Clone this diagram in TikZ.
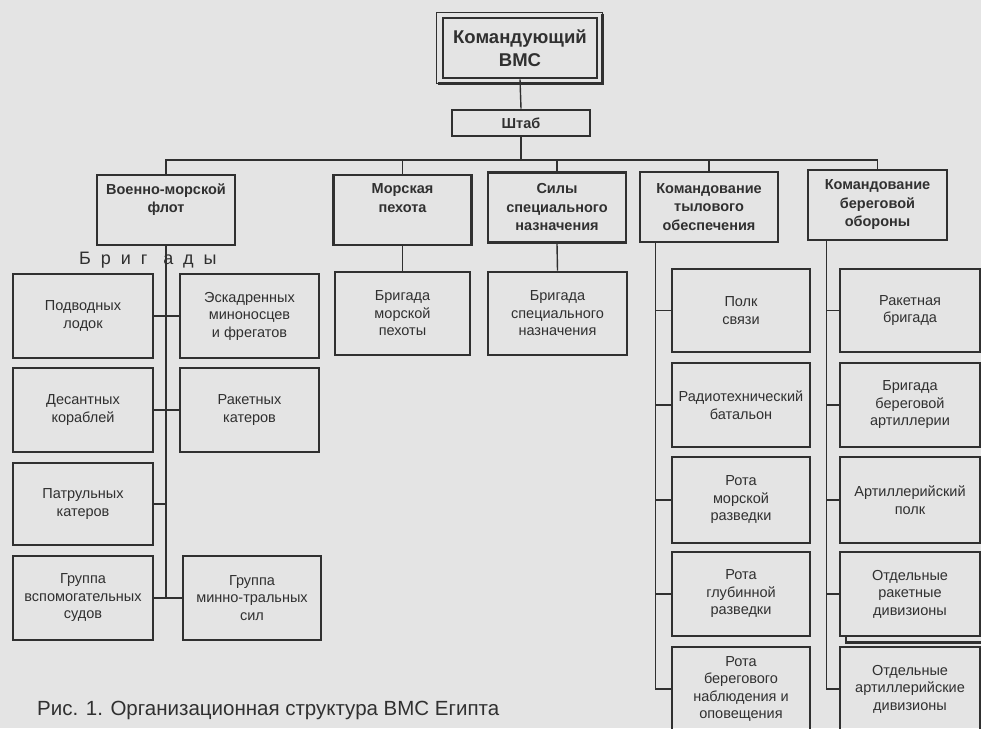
\documentclass[tikz,border=0pt]{standalone}
\usepackage{fontspec}
\setmainfont{Liberation Sans}
\newfontfamily\spacedfont[LetterSpace=55]{Liberation Sans}
\definecolor{paper}{RGB}{228,228,228}
\definecolor{ink}{RGB}{48,48,48}

\begin{document}
\begin{tikzpicture}[x=1pt, y=-1pt,
    topbox/.style={draw=ink, line width=2.8pt, minimum width=154pt, minimum height=60pt,
        inner sep=0pt, align=center, text=ink, font=\fontsize{18.5}{23}\selectfont\bfseries},
    mainbox/.style={draw=ink, line width=2.8pt, minimum width=138pt, minimum height=70pt,
        inner sep=0pt, align=center, text=ink, font=\fontsize{14.5}{18.5}\selectfont\bfseries},
    subbox/.style={draw=ink, line width=2.8pt, minimum width=139pt, minimum height=84pt,
        inner sep=0pt, align=center, text=ink, font=\fontsize{14.5}{17.5}\selectfont},
    link/.style={draw=ink, line width=1.4pt}]
        \useasboundingbox (0,0) rectangle (981,728);
        \clip (0,0) rectangle (981,728);
        \fill[paper] (0,0) rectangle (981,728);
        % command
        \node[topbox] (cmd) at (520,48) {Командующий\\ВМС};
        \draw[ink, line width=1.3pt] ([shift={(-5,-4)}]cmd.north west) rectangle ([shift={(4,4)}]cmd.south east);
        \draw[ink, line width=2.2pt] ([shift={(4,-3)}]cmd.north east) -- ([shift={(4,4)}]cmd.south east) -- ([shift={(-4,4)}]cmd.south west);
        \node[mainbox, minimum height=26pt] (shtab) at (521,123) {Штаб};
        \draw[link] (cmd.south) -- (shtab.north);
        % main branches
        \node[mainbox] (vmf) at (166,210) {Военно-морской\\флот\\\strut};
        \node[mainbox] (mp) at (402.5,210) {Морская\\пехота\\\strut};
        \node[mainbox] (ssn) at (557,207.5) {Силы\\специального\\назначения};
        \node[mainbox] (kto) at (709,207) {Командование\\тылового\\обеспечения};
        \node[mainbox, minimum width=139pt] (kbo) at (877.5,205) {Командование\\береговой\\обороны};
        \coordinate (bus) at (521,160);
        \draw[link] (shtab.south) -- (bus);
        \draw[link] (vmf.north) -- (vmf.north |- bus) -- (kbo.north |- bus) -- (kbo.north);
        \foreach \n in {mp,ssn,kto}
            \draw[link] (\n.north) -- (\n.north |- bus);
        % marines and special forces
        \node[subbox, minimum width=135pt, minimum height=83pt] (bmp) at (402.5,313.5) {Бригада\\морской\\пехоты};
        \node[subbox, minimum height=83pt] (bsn) at (557.5,313.5) {Бригада\\специального\\назначения};
        \draw[link] (mp.south) -- (bmp.north);
        \draw[link] (ssn.south) -- (bsn.north);
        % navy brigades
        \node[text=ink, anchor=west, inner sep=0pt, font=\fontsize{18}{20}\selectfont] (brig) at (79,260) {\spacedfont Бриг\hspace{16pt}ады};
        \node[subbox, minimum width=140pt] (pl) at (83,316) {Подводных\\лодок};
        \node[subbox] (esm) at (249.5,316) {Эскадренных\\миноносцев\\и фрегатов};
        \node[subbox, minimum width=140pt] (dk) at (83,410) {Десантных\\кораблей};
        \node[subbox] (rk) at (249.5,410) {Ракетных\\катеров};
        \node[subbox, minimum width=140pt, minimum height=82pt] (pk) at (83,504) {Патрульных\\катеров};
        \node[subbox, minimum width=140pt] (gvs) at (83,598) {Группа\\вспомогательных\\судов};
        \node[subbox, minimum width=138pt] (gmts) at (252,598) {Группа\\минно-тральных\\сил};
        \draw[link] (vmf.south) -- (vmf.south |- gvs.east);
        \draw[link] (pl) -- (esm);
        \draw[link] (dk) -- (rk);
        \draw[link] (pk.east) -- (pk.east -| vmf.south);
        \draw[link] (gvs) -- (gmts);
        % rear services
        \coordinate (tspine) at ([xshift=17pt]kto.south west);
        \node[subbox, minimum width=138pt, minimum height=83pt] (ps) at (741,310.5) {Полк\\связи};
        \node[subbox, minimum width=138pt] (rtb) at (741,405) {Радиотехнический\\батальон};
        \node[subbox, minimum width=138pt, minimum height=86pt] (rmr) at (741,500) {Рота\\морской\\разведки};
        \node[subbox, minimum width=138pt] (rgr) at (741,594) {Рота\\глубинной\\разведки};
        \node[subbox, minimum width=138pt] (rbno) at (741,689) {Рота\\берегового\\наблюдения и\\оповещения};
        \draw[link] (tspine) -- (tspine |- rbno.west) -- (rbno.west);
        \foreach \n in {ps,rtb,rmr,rgr}
            \draw[link] (\n.west) -- (\n.west -| tspine);
        % coastal defence
        \coordinate (bspine) at ([xshift=20pt]kbo.south west);
        \node[subbox, minimum width=140pt, minimum height=83pt] (rbr) at (910,310.5) {Ракетная\\бригада};
        \node[subbox, minimum width=140pt] (bba) at (910,405) {Бригада\\береговой\\артиллерии};
        \node[subbox, minimum width=140pt, minimum height=86pt] (ap) at (910,500) {Артиллерийский\\полк};
        \node[subbox, minimum width=140pt] (ord) at (910,594) {Отдельные\\ракетные\\дивизионы};
        \draw[ink, line width=2.2pt] ([xshift=7pt]ord.south west) -- ++(0,5) -- ([shift={(7,5)}]ord.south east);
        \node[subbox, minimum width=140pt] (oad) at (910,689) {Отдельные\\артиллерийские\\дивизионы};
        \draw[link] (bspine) -- (bspine |- oad.west) -- (oad.west);
        \foreach \n in {rbr,bba,ap,ord}
            \draw[link] (\n.west) -- (\n.west -| bspine);
        % caption
        \node[text=ink, anchor=west, inner sep=0pt, font=\fontsize{20.5}{24}\selectfont] (cap) at (37,710) {Рис. 1. Организационная структура ВМС Египта};
    \end{tikzpicture}
\end{document}
